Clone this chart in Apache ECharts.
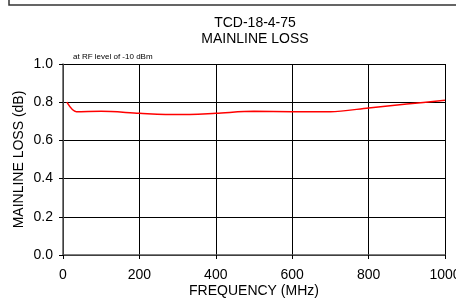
<!DOCTYPE html>
<html>
<head>
<meta charset="utf-8">
<script src="https://cdn.jsdelivr.net/npm/echarts@6/dist/echarts.min.js"></script>
<style>
    html, body { margin: 0; padding: 0; background: #fff; }
    #lossChart { width: 456px; height: 298px; }
</style>
</head>
<body>
<div id="lossChart"></div>
<script>
    // 读图得到的数据
    var freqMHz = [10, 35, 100, 200, 300, 400, 500, 600, 700, 800, 900, 1000];
    var lossDb = [0.80, 0.75, 0.752, 0.742, 0.735, 0.742, 0.752, 0.750, 0.750, 0.770, 0.790, 0.810];
    var titleLines = ['TCD-18-4-75', 'MAINLINE LOSS'];
    var noteText = 'at RF level of -10 dBm';
    var xName = 'FREQUENCY (MHz)';
    var yName = 'MAINLINE LOSS (dB)';

    var chart = echarts.init(document.getElementById('lossChart'));
    var seriesData = freqMHz.map(function (f, i) { return [f, lossDb[i]]; });
    var font = 'Liberation Sans, Arial, sans-serif';

    var option = {
        animation: false,
        backgroundColor: '#fff',
        title: [
            {
                text: titleLines.join('\n'),
                left: 250,
                top: 10,
                textAlign: 'center',
                textStyle: { fontFamily: font, fontSize: 14, fontWeight: 'normal', color: '#000', lineHeight: 16 }
            },
            {
                text: noteText,
                left: 68,
                top: 48,
                textStyle: { fontFamily: font, fontSize: 8, fontWeight: 'normal', color: '#000' }
            }
        ],
        graphic: [
            {
                type: 'polyline',
                shape: { points: [[9, 0], [9, 5], [456, 5]] },
                style: { stroke: '#333', lineWidth: 1.5, fill: null }
            }
        ],
        grid: { left: 63, right: 11, top: 64, bottom: 43, outerBoundsMode: 'none', containLabel: false },
        xAxis: {
            type: 'value',
            min: 0, max: 1000, interval: 200,
            name: xName,
            nameLocation: 'middle',
            nameGap: 29,
            nameMoveOverlap: false,
            nameTextStyle: { fontFamily: font, fontSize: 14, color: '#000' },
            axisLine: { show: true, lineStyle: { color: '#555', width: 1.5 } },
            axisTick: { show: true, length: 4, lineStyle: { color: '#000' } },
            axisLabel: {
                fontFamily: font, fontSize: 14, color: '#000', margin: 13, showMaxLabel: true,
                formatter: function (v) { return String(v); }
            },
            splitLine: { show: true, lineStyle: { color: '#000', width: 1 } }
        },
        yAxis: {
            type: 'value',
            min: 0, max: 1, interval: 0.2,
            name: yName,
            nameLocation: 'middle',
            nameGap: 37,
            nameMoveOverlap: false,
            nameTextStyle: { fontFamily: font, fontSize: 14, color: '#000' },
            axisLine: { show: true, lineStyle: { color: '#555', width: 1.5 } },
            axisTick: { show: true, length: 4, lineStyle: { color: '#000' } },
            axisLabel: {
                fontFamily: font, fontSize: 14, color: '#000', margin: 10,
                formatter: function (v) { return v.toFixed(1); }
            },
            splitLine: { show: true, lineStyle: { color: '#000', width: 1 } }
        },
        series: [
            {
                type: 'line',
                data: seriesData,
                smooth: 0.3,
                showSymbol: false,
                lineStyle: { color: '#ff0000', width: 1.5 }
            }
        ]
    };
    chart.setOption(option);
</script>
</body>
</html>
